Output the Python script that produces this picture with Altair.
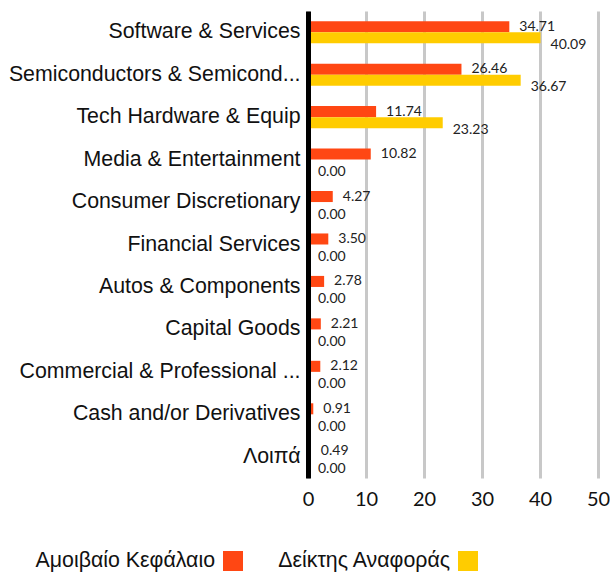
import altair as alt
import pandas as pd

categories = [
    "Software & Services",
    "Semiconductors & Semicond...",
    "Tech Hardware & Equip",
    "Media & Entertainment",
    "Consumer Discretionary",
    "Financial Services",
    "Autos & Components",
    "Capital Goods",
    "Commercial & Professional ...",
    "Cash and/or Derivatives",
    "Λοιπά",
]
fund = [34.71, 26.46, 11.74, 10.82, 4.27, 3.50, 2.78, 2.21, 2.12, 0.91, 0.49]
bench = [40.09, 36.67, 23.23, 0.00, 0.00, 0.00, 0.00, 0.00, 0.00, 0.00, 0.00]
series = ["Αμοιβαίο Κεφάλαιο", "Δείκτης Αναφοράς"]
colors = ["#FF4713", "#FFCC00"]
x_ticks = [0, 10, 20, 30, 40, 50]

rows = []
for c, f, b in zip(categories, fund, bench):
    rows.append({"category": c, "series": series[0], "value": f})
    rows.append({"category": c, "series": series[1], "value": b})
df = pd.DataFrame(rows)

color_scale = alt.Scale(domain=series, range=colors)

base = alt.Chart(df).encode(
    y=alt.Y(
        "category:N",
        sort=categories,
        scale=alt.Scale(paddingInner=0.48, paddingOuter=0.24),
        axis=alt.Axis(
            title=None,
            domainColor="black",
            domainWidth=5,
            ticks=False,
            grid=False,
            labelFontSize=21.33,
            labelFont="Liberation Sans",
            labelColor="#111",
            labelPadding=8,
            labelLimit=400,
            zindex=1,
        ),
    ),
    yOffset=alt.YOffset("series:N", sort=series),
)

bars = base.mark_bar().encode(
    x=alt.X(
        "value:Q",
        scale=alt.Scale(domain=[0, 50]),
        axis=alt.Axis(
            values=x_ticks,
            title=None,
            grid=True,
            gridColor="#c8c8c8",
            gridWidth=3,
            domain=False,
            ticks=False,
            labelFlush=False,
            labelFontSize=20,
            labelFont="Lato",
            labelColor="#111",
            labelPadding=11,
        ),
    ),
    color=alt.Color("series:N", scale=color_scale, legend=None),
)

txt_f = base.transform_filter(alt.datum.series == series[0]).mark_text(
    align="left", baseline="middle", dx=10, dy=0, fontSize=14, font="Lato", color="#222"
).encode(x="value:Q", text=alt.Text("value:Q", format=".2f"))

txt_b = base.transform_filter(alt.datum.series == series[1]).mark_text(
    align="left", baseline="middle", dx=10, dy=7, fontSize=14, font="Lato", color="#222"
).encode(x="value:Q", text=alt.Text("value:Q", format=".2f"))

main = alt.layer(bars, txt_f, txt_b).properties(width=290, height=467)

leg_base = alt.Chart(pd.DataFrame({"series": series})).encode(
    x=alt.X("series:N", sort=series, axis=None,
            scale=alt.Scale(type="point", padding=0, range=[-75, 160])),
)
leg_sq = leg_base.mark_square(size=400, opacity=1).encode(
    color=alt.Color("series:N", scale=color_scale, legend=None)
)
leg_txt = leg_base.mark_text(
    align="right", baseline="middle", dx=-18, fontSize=21.33, font="Liberation Sans", color="#111"
).encode(text="series:N")
legend = alt.layer(leg_sq, leg_txt).properties(width=290, height=20)

chart = (
    alt.vconcat(main, legend, spacing=41)
    .properties(padding={"left": 8, "top": 11, "right": 0, "bottom": 0})
    .configure_view(stroke=None)
)

chart.save("out.html", embed_options={"renderer": "svg", "actions": False})
